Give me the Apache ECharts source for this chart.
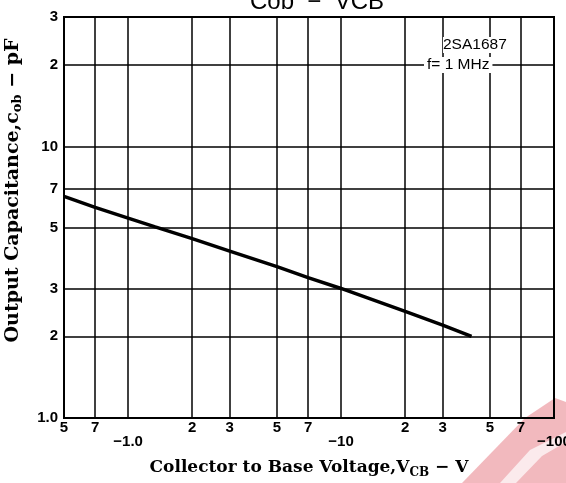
<!DOCTYPE html>
<html>
<head>
<meta charset="utf-8">
<script src="https://cdn.jsdelivr.net/npm/echarts@6/dist/echarts.min.js"></script>
<style>
  html, body { margin: 0; padding: 0; background: #fff; }
  #chart { width: 566px; height: 483px; }
</style>
</head>
<body>
<div id="chart"></div>
<script>
  // curve (|VCB| in volts, Cob in pF)
  const vcb = [0.5, 0.7, 1, 1.34, 2, 3, 5, 7, 10, 20, 30, 41];
  const cob = [6.55, 5.97, 5.45, 5.06, 4.58, 4.12, 3.61, 3.29, 3.0, 2.47, 2.2, 2.0];

  const xTicks = [0.5, 0.7, 1, 2, 3, 5, 7, 10, 20, 30, 50, 70, 100];
  const xTickLabels = ['5', '7', '\n−1.0', '2', '3', '5', '7', '\n−10', '2', '3', '5', '7', '\n−100'];
  const yTicks = [1, 2, 3, 5, 7, 10, 20, 30];
  const yTickLabels = ['1.0', '2', '3', '5', '7', '10', '2', '3'];

  function lookup(ticks, labels) {
    return function (v) {
      for (let i = 0; i < ticks.length; i++) {
        if (Math.abs(ticks[i] - v) / ticks[i] < 1e-6) return labels[i];
      }
      return '';
    };
  }

  const chart = echarts.init(document.getElementById('chart'));
  const tickFont = { color: '#000', fontFamily: 'Liberation Sans', fontWeight: 'bold', fontSize: 15 };
  const nameFont = { color: '#000', fontFamily: 'DejaVu Serif', fontWeight: 'bold', fontSize: 17 };

  chart.setOption({
    animation: false,
    backgroundColor: '#fff',
    grid: {
      left: 64, right: 12, top: 17, bottom: 65,
      outerBoundsMode: 'none', containLabel: false,
      show: true, borderColor: '#000', borderWidth: 2
    },
    xAxis: {
      type: 'log', logBase: 10, min: 0.5, max: 100,
      axisLine: { show: true, lineStyle: { color: '#000', width: 2 } },
      axisTick: { show: false, customValues: xTicks },
      splitLine: { show: true, lineStyle: { color: '#000', width: 1.5 } },
      axisLabel: {
        customValues: xTicks, margin: 3, lineHeight: 14,
        formatter: lookup(xTicks, xTickLabels),
        ...tickFont
      },
      name: 'Collector to Base Voltage,V{sub|CB} − V',
      nameLocation: 'middle', nameGap: 39,
      nameTextStyle: {
        ...nameFont,
        rich: { sub: { ...nameFont, fontSize: 12, padding: [10, 0, 0, 0] } }
      }
    },
    yAxis: {
      type: 'log', logBase: 10, min: 1, max: 30,
      axisLine: { show: true, lineStyle: { color: '#000', width: 2 } },
      axisTick: { show: false, customValues: yTicks },
      splitLine: { show: true, lineStyle: { color: '#000', width: 1.5 } },
      axisLabel: {
        customValues: yTicks, margin: 6,
        formatter: lookup(yTicks, yTickLabels),
        ...tickFont
      },
      name: 'Output Capacitance,c{sub|ob} − pF',
      nameLocation: 'middle', nameGap: 40,
      nameTextStyle: {
        ...nameFont,
        fontSize: 19,
        padding: [0, 0, 0, 54],
        rich: { sub: { ...nameFont, fontSize: 13, padding: [8, 0, 0, 0] } }
      }
    },
    series: [{
      type: 'line',
      data: vcb.map(function (v, i) { return [v, cob[i]]; }),
      showSymbol: false,
      lineStyle: { color: '#000', width: 3.5 }
    }],
    graphic: [
      {
        type: 'text', left: 250, top: -10, z: 10,
        style: { text: 'Cob  −  VCB', fontFamily: 'Liberation Sans', fontSize: 24, fill: '#000' }
      },
      {
        type: 'text', left: 443, top: 37, z: 10,
        style: { text: '2SA1687', fontFamily: 'Liberation Sans', fontSize: 15.5, fill: '#000', backgroundColor: '#fff' }
      },
      {
        type: 'text', left: 424, top: 57, z: 10,
        style: { text: 'f= 1 MHz', fontFamily: 'Liberation Sans', fontSize: 15.5, fill: '#000', backgroundColor: '#fff', padding: [0, 3] }
      },
      {
        type: 'polygon', z: -1, silent: true,
        shape: { points: [[462, 483], [525, 418], [555, 398], [566, 402], [566, 483]] },
        style: { fill: 'rgba(226, 100, 110, 0.45)' }
      },
      {
        type: 'polygon', z: 0, silent: true,
        shape: { points: [[500, 483], [530, 450], [566, 432], [566, 442], [542, 456], [516, 483]] },
        style: { fill: 'rgba(255, 255, 255, 0.7)' }
      }
    ]
  });
</script>
</body>
</html>
